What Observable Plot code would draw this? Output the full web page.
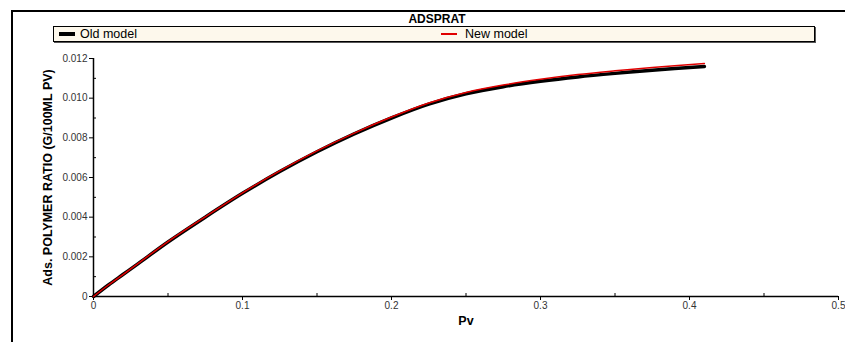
<!DOCTYPE html>
<html>
<head>
<meta charset="utf-8">
<script src="https://cdn.jsdelivr.net/npm/d3@7"></script>
<script src="https://cdn.jsdelivr.net/npm/@observablehq/plot@0.6"></script>
<style>
  body { margin: 0; background: #fff; }
  #wrap { position: relative; width: 845px; height: 342px; font-family: Arial, "Liberation Sans", sans-serif; overflow: hidden; }
  #wrap svg { position: absolute; left: 0; top: 0; }
  .frameTop { position: absolute; left: 11px; top: 10px; width: 834px; height: 1.5px; background: #000; }
  .frameLeft { position: absolute; left: 11px; top: 10px; width: 1.5px; height: 332px; background: #000; }
  .title { position: absolute; left: 0; width: 874px; top: 12px; text-align: center; font-weight: bold; font-size: 12px; color: #000; }
  .legend { position: absolute; left: 53px; top: 26px; width: 760px; height: 14px; background: #fdf8ec; border: 1px solid #000; box-shadow: 1px 1px 0 #555; }
  .sw { position: absolute; }
  .lt { position: absolute; top: 0px; font-size: 12.5px; line-height: 14px; color: #000; }
  [aria-label="y-axis label"], [aria-label="x-axis label"] { font-weight: bold; font-size: 12.5px; fill: #000; }
</style>
</head>
<body>
<div id="wrap">
  <div class="frameTop"></div>
  <div class="frameLeft"></div>
  <div class="title">ADSPRAT</div>
  <div class="legend">
    <div class="sw" style="left:5px; top:5px; width:16px; height:3.5px; background:#000;"></div>
    <div class="lt" style="left:26px;">Old model</div>
    <div class="sw" style="left:387px; top:6px; width:16px; height:1.5px; background:#e00000;"></div>
    <div class="lt" style="left:411px;">New model</div>
  </div>
</div>
<script>
const pv       = [0, 0.01, 0.02, 0.03, 0.05, 0.075, 0.1, 0.125, 0.15, 0.175, 0.2, 0.225, 0.25, 0.275, 0.3, 0.325, 0.35, 0.375, 0.41];
const oldModel = [0, 0.00058, 0.00112, 0.00166, 0.00275, 0.0040, 0.0052, 0.0063, 0.0073, 0.0082, 0.0090, 0.0097, 0.01022, 0.01058, 0.01085, 0.01107, 0.01125, 0.01141, 0.0116];
const newModel = [0, 0.00058, 0.00112, 0.00167, 0.00277, 0.00402, 0.00523, 0.00633, 0.00734, 0.00824, 0.00905, 0.00976, 0.01029, 0.01066, 0.01095, 0.01119, 0.01138, 0.01155, 0.01175];
const xTicks = [0, 0.1, 0.2, 0.3, 0.4, 0.5];
const xMinor = [0.05, 0.15, 0.25, 0.35, 0.45];
const yTicks = [0, 0.002, 0.004, 0.006, 0.008, 0.010, 0.012];
const yMinor = [0.001, 0.003, 0.005, 0.007, 0.009, 0.011];
const yTickLabels = ["0", "0.002", "0.004", "0.006", "0.008", "0.010", "0.012"];
const xTickLabels = ["0", "0.1", "0.2", "0.3", "0.4", "0.5"];

const oldData = pv.map((x, i) => ({x, y: oldModel[i]}));
const newData = pv.map((x, i) => ({x, y: newModel[i]}));

const chart = Plot.plot({
  width: 845,
  height: 342,
  marginLeft: 93,
  marginRight: 7,
  marginTop: 58,
  marginBottom: 46,
  style: {fontFamily: 'Arial, "Liberation Sans", sans-serif', fontSize: "10px", color: "#333", background: "transparent"},
  x: {domain: [0, 0.5]},
  y: {domain: [0, 0.012]},
  marks: [
    Plot.axisX({ticks: xTicks, tickSize: 4, tickPadding: 1, tickFormat: (d, i) => xTickLabels[i], label: "Pv", labelAnchor: "center", labelArrow: "none", labelOffset: 28, stroke: "#000"}),
    Plot.axisX({ticks: xMinor, tickSize: 3, dy: -3, text: null, label: null, stroke: "#000"}),
    Plot.axisY({ticks: yTicks, tickSize: 4, tickPadding: 2, tickFormat: (d, i) => yTickLabels[i], label: "Ads. POLYMER RATIO (G/100ML PV)", labelAnchor: "center", labelArrow: "none", labelOffset: 50, stroke: "#000"}),
    Plot.axisY({ticks: yMinor, tickSize: 3, dx: 3, text: null, label: null, stroke: "#000"}),
    Plot.ruleY([0], {stroke: "#000", strokeWidth: 1.5}),
    Plot.ruleX([0], {stroke: "#000", strokeWidth: 1.5}),
    Plot.line(oldData, {x: "x", y: "y", stroke: "#000", strokeWidth: 3.5, curve: "catmull-rom"}),
    Plot.line(newData, {x: "x", y: "y", stroke: "#e00000", strokeWidth: 1.5, curve: "catmull-rom"})
  ]
});
document.getElementById("wrap").prepend(chart);
</script>
</body>
</html>
